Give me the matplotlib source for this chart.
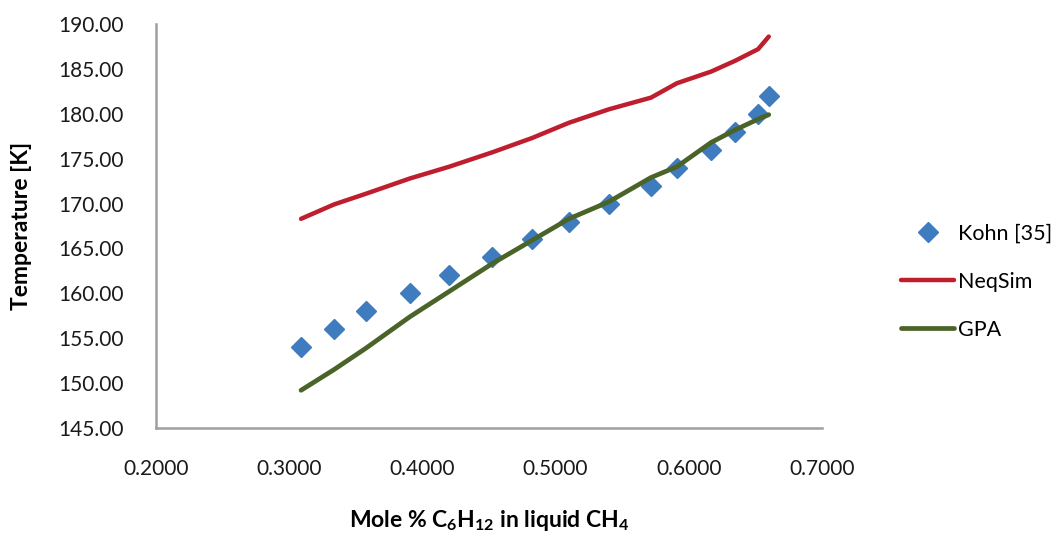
import numpy as np
import matplotlib
matplotlib.use('Agg')
import matplotlib.pyplot as plt
from matplotlib.ticker import FormatStrFormatter

plt.rcParams['font.family'] = ['Lato', 'DejaVu Sans']
plt.rcParams['mathtext.fontset'] = 'custom'
plt.rcParams['mathtext.rm'] = 'Lato'
plt.rcParams['mathtext.bf'] = 'Lato:bold'

# mole fraction of cyclohexane in liquid methane
x_mole = [0.3089, 0.3336, 0.3577, 0.3907, 0.4200, 0.4523, 0.4823, 0.5100,
          0.5400, 0.5716, 0.5910, 0.6167, 0.6347, 0.6520, 0.6600]
# experimental freezing temperatures (Kohn)
t_kohn = [154, 156, 158, 160, 162, 164, 166, 168, 170, 172, 174, 176, 178, 180, 182]
# model results
t_neqsim = [168.3, 169.9, 171.1, 172.8, 174.1, 175.7, 177.3, 179.0,
            180.5, 181.8, 183.4, 184.7, 185.9, 187.2, 188.6]
t_gpa = [149.2, 151.5, 153.9, 157.4, 160.2, 163.3, 165.9, 168.3,
         170.2, 172.9, 174.1, 176.8, 178.2, 179.4, 179.9]

fig = plt.figure(figsize=(10.64, 5.36), dpi=100, facecolor='white')
ax = fig.add_axes([0.1466, 0.2015, 0.626, 0.7537])

ax.plot(x_mole, t_kohn, linestyle='none', marker='D', markersize=10,
        color='#3F7CBF', label='Kohn [35]', zorder=3)
ax.plot(x_mole, t_neqsim, color='#BE1E2D', linewidth=3.2,
        solid_capstyle='round', solid_joinstyle='round', label='NeqSim', zorder=2)
ax.plot(x_mole, t_gpa, color='#4A6329', linewidth=3.4,
        solid_capstyle='round', solid_joinstyle='round', label='GPA', zorder=4)

ax.set_xlim(0.2, 0.7)
ax.set_ylim(145, 190)
ax.set_xticks(np.arange(0.2, 0.71, 0.1))
ax.set_yticks(np.arange(145, 191, 5))
ax.xaxis.set_major_formatter(FormatStrFormatter('%.4f'))
ax.yaxis.set_major_formatter(FormatStrFormatter('%.2f'))
ax.tick_params(length=0, labelsize=15, colors='#1a1a1a')
ax.tick_params(axis='y', pad=23)
ax.tick_params(axis='x', pad=22)

for side in ['top', 'right']:
    ax.spines[side].set_visible(False)
for side in ['left', 'bottom']:
    ax.spines[side].set_color('#A0A0A0')
    ax.spines[side].set_linewidth(1.8)

ax.set_ylabel('Temperature [K]', fontsize=16.5, fontweight='bold')
ax.yaxis.set_label_coords(-0.186, 0.5)
ax.set_xlabel(r'Mole % C$_\mathbf{6}$H$_\mathbf{12}$ in liquid CH$_\mathbf{4}$',
              fontsize=16.5, fontweight='bold', va='center')
ax.xaxis.set_label_coords(0.5, -0.228)

fig.legend(loc='center left', bbox_to_anchor=(0.829, 0.474), frameon=False,
           fontsize=15.5, handlelength=2.45, handletextpad=0.2, labelspacing=1.3)

fig.savefig('out.png', dpi=100, facecolor='white')
